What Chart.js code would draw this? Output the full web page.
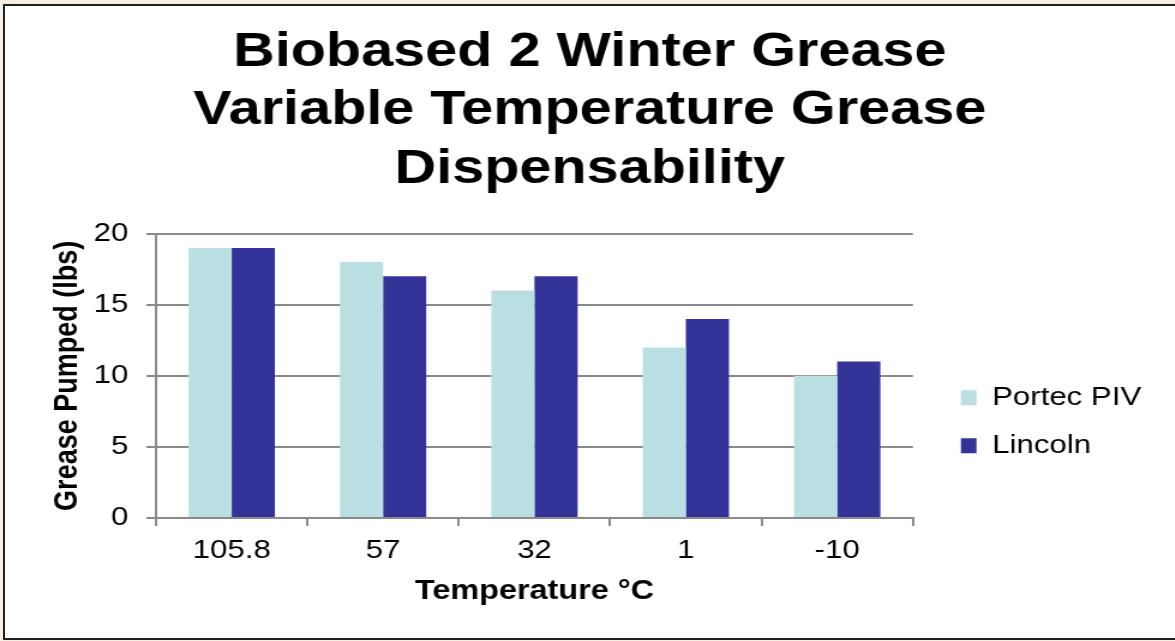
<!DOCTYPE html>
<html>
<head>
<meta charset="utf-8">
<script src="https://cdn.jsdelivr.net/npm/chart.js@4.4.1/dist/chart.umd.min.js"></script>
<style>
    body { margin: 0; background: #f4efe0; overflow: hidden; }
    .frame {
        position: absolute; left: 3px; top: 4px;
        width: 1190px; height: 632px;
        border: 2px solid #1e1e1e; background: #fff;
    }
    #chart {
        position: absolute; left: 0; top: 0;
        transform: scaleX(1.2); transform-origin: 0 0;
    }
</style>
</head>
<body>
<div class="frame"></div>
<canvas id="chart" width="979" height="641"></canvas>
<script>
const temperatures = ['105.8', '57', '32', '1', '-10'];
const portecPIV = [19, 18, 16, 12, 10];
const lincoln = [19, 17, 17, 14, 11];
const yTicks = [0, 5, 10, 15, 20];

const fontFamily = '"Liberation Sans", Arial, sans-serif';
const gridGray = '#8a8a8a';

// nudges the legend next to the plot, like the original
const legendNudge = {
    id: 'legendNudge',
    afterLayout(chart) {
        const lg = chart.legend;
        lg.left += 18; lg.right += 18;
        lg.top += 46; lg.bottom += 46;
    }
};

new Chart(document.getElementById('chart'), {
    type: 'bar',
    data: {
        labels: temperatures,
        datasets: [{
            label: 'Portec PIV',
            data: portecPIV,
            backgroundColor: '#b9dfe2'
        }, {
            label: 'Lincoln',
            data: lincoln,
            backgroundColor: '#333399'
        }]
    },
    options: {
        responsive: false,
        animation: false,
        categoryPercentage: 0.57,
        barPercentage: 1.0,
        layout: { padding: { top: 0, left: 40, right: 36, bottom: 10 } },
        plugins: {
            title: {
                display: true,
                text: ['Biobased 2 Winter Grease', 'Variable Temperature Grease', 'Dispensability'],
                color: '#000',
                font: { family: fontFamily, size: 48, weight: 'bold', lineHeight: 1.22 },
                padding: { top: 23, bottom: 35 }
            },
            legend: {
                position: 'right',
                align: 'center',
                fullSize: false,
                labels: {
                    color: '#000',
                    font: { family: fontFamily, size: 26 },
                    boxWidth: 13,
                    boxHeight: 15,
                    padding: 22
                }
            },
            tooltip: { enabled: false }
        },
        scales: {
            x: {
                afterFit(scale) { scale.height = 113; },
                grid: { drawOnChartArea: false, tickLength: 8, color: gridGray, lineWidth: 2 },
                border: { color: gridGray, width: 2 },
                ticks: { color: '#000', font: { family: fontFamily, size: 26 }, padding: 9 },
                title: {
                    display: true,
                    text: 'Temperature °C',
                    color: '#000',
                    font: { family: fontFamily, size: 27, weight: 'bold' },
                    padding: { top: 0, bottom: 23 }
                }
            },
            y: {
                min: 0,
                max: 20,
                afterFit(scale) { scale.width = 90; },
                afterBuildTicks(scale) { scale.ticks = yTicks.map(v => ({ value: v })); },
                grid: { tickLength: 8, color: gridGray, lineWidth: 2 },
                border: { color: gridGray, width: 2 },
                ticks: { color: '#000', font: { family: fontFamily, size: 26 }, padding: 15 },
                title: {
                    display: true,
                    text: 'Grease Pumped (lbs)',
                    color: '#000',
                    font: { family: fontFamily, size: 27, weight: 'bold' },
                    padding: { top: 0, bottom: 0 }
                }
            }
        }
    },
    plugins: [legendNudge]
});
</script>
</body>
</html>
